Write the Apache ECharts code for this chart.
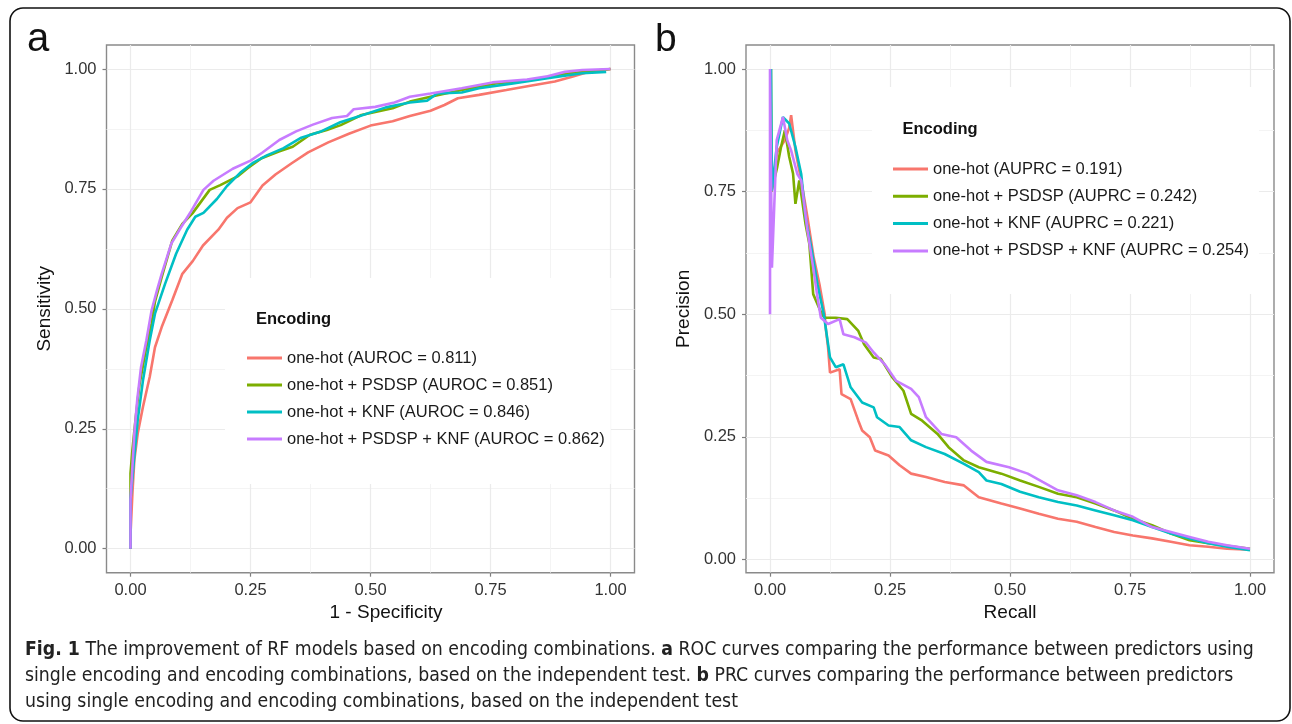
<!DOCTYPE html>
<html><head><meta charset="utf-8">
<script src="https://cdn.jsdelivr.net/npm/echarts@6/dist/echarts.min.js"></script>
<style>html,body{margin:0;padding:0;background:#fff}#c{width:1292px;height:724px}</style>
</head><body><div id="c"></div>
<script>
// ---------- data ----------
const rocNames = ['one-hot (AUROC = 0.811)','one-hot + PSDSP (AUROC = 0.851)','one-hot + KNF (AUROC = 0.846)','one-hot + PSDSP + KNF (AUROC = 0.862)'];
const prcNames = ['one-hot (AUPRC = 0.191)','one-hot + PSDSP (AUPRC = 0.242)','one-hot + KNF (AUPRC = 0.221)','one-hot + PSDSP + KNF (AUPRC = 0.254)'];
const colors = ['#F8766D','#7CAE00','#00BFC4','#C77CFF'];
const majorTicks = [0, 0.25, 0.5, 0.75, 1];
const minorTicks = [0.125, 0.375, 0.625, 0.875];

const rocOneHot = [[0,0],[0,0.03],[0.004,0.116],[0.008,0.185],[0.015,0.240],[0.026,0.296],[0.040,0.358],[0.051,0.420],[0.065,0.462],[0.087,0.518],[0.108,0.573],[0.130,0.600],[0.151,0.632],[0.183,0.665],[0.201,0.690],[0.223,0.710],[0.250,0.722],[0.275,0.757],[0.302,0.780],[0.335,0.803],[0.370,0.826],[0.412,0.847],[0.455,0.865],[0.500,0.882],[0.546,0.891],[0.582,0.902],[0.625,0.913],[0.654,0.925],[0.682,0.939],[0.726,0.946],[0.783,0.956],[0.833,0.965],[0.884,0.974],[0.920,0.984],[0.955,0.994],[1,1]];
const rocPsdsp = [[0,0],[0,0.157],[0.004,0.206],[0.011,0.275],[0.019,0.344],[0.033,0.420],[0.044,0.470],[0.051,0.515],[0.065,0.566],[0.087,0.642],[0.108,0.677],[0.129,0.699],[0.165,0.748],[0.187,0.758],[0.223,0.776],[0.244,0.793],[0.273,0.814],[0.309,0.828],[0.338,0.838],[0.374,0.863],[0.409,0.873],[0.438,0.883],[0.481,0.904],[0.546,0.918],[0.582,0.932],[0.625,0.942],[0.690,0.956],[0.761,0.970],[0.833,0.977],[0.905,0.990],[1,1]];
const rocKnf = [[0,0],[0,0.102],[0.006,0.171],[0.015,0.268],[0.026,0.351],[0.040,0.434],[0.051,0.490],[0.072,0.552],[0.095,0.615],[0.118,0.665],[0.135,0.692],[0.152,0.700],[0.180,0.729],[0.201,0.756],[0.229,0.784],[0.256,0.805],[0.284,0.820],[0.319,0.835],[0.354,0.856],[0.395,0.869],[0.437,0.889],[0.478,0.902],[0.532,0.920],[0.582,0.930],[0.618,0.934],[0.639,0.949],[0.690,0.951],[0.726,0.960],[0.797,0.970],[0.869,0.981],[0.941,0.991],[0.991,0.994]];
const rocAll = [[0,0],[0,0.102],[0.004,0.171],[0.008,0.240],[0.014,0.310],[0.022,0.379],[0.033,0.434],[0.044,0.497],[0.055,0.538],[0.065,0.573],[0.085,0.636],[0.104,0.668],[0.126,0.703],[0.152,0.748],[0.173,0.767],[0.213,0.792],[0.250,0.809],[0.275,0.826],[0.310,0.852],[0.345,0.870],[0.380,0.884],[0.420,0.898],[0.451,0.902],[0.465,0.916],[0.510,0.921],[0.550,0.930],[0.582,0.942],[0.625,0.949],[0.690,0.960],[0.754,0.972],[0.826,0.978],[0.869,0.985],[0.905,0.994],[0.941,0.998],[1,1]];

const prcOneHot = [[0.001,1.0],[0.003,0.75],[0.015,0.83],[0.031,0.855],[0.040,0.88],[0.044,0.906],[0.053,0.834],[0.065,0.773],[0.078,0.698],[0.091,0.616],[0.103,0.561],[0.114,0.50],[0.116,0.473],[0.121,0.432],[0.125,0.381],[0.145,0.388],[0.149,0.337],[0.168,0.327],[0.184,0.283],[0.192,0.263],[0.208,0.249],[0.219,0.222],[0.247,0.212],[0.270,0.192],[0.294,0.175],[0.325,0.168],[0.364,0.158],[0.404,0.151],[0.435,0.127],[0.482,0.114],[0.521,0.104],[0.560,0.093],[0.600,0.083],[0.639,0.077],[0.678,0.066],[0.717,0.056],[0.756,0.049],[0.796,0.043],[0.835,0.036],[0.874,0.029],[0.913,0.026],[0.952,0.022],[1.0,0.020]];
const prcPsdsp = [[0.002,1.0],[0.003,0.75],[0.015,0.80],[0.023,0.841],[0.031,0.875],[0.040,0.821],[0.048,0.787],[0.053,0.725],[0.061,0.773],[0.074,0.684],[0.082,0.643],[0.090,0.541],[0.108,0.50],[0.114,0.493],[0.137,0.493],[0.161,0.490],[0.184,0.466],[0.196,0.439],[0.216,0.412],[0.231,0.409],[0.255,0.371],[0.278,0.344],[0.294,0.297],[0.317,0.283],[0.349,0.256],[0.372,0.229],[0.404,0.202],[0.435,0.188],[0.482,0.175],[0.521,0.161],[0.560,0.148],[0.600,0.134],[0.639,0.127],[0.678,0.114],[0.717,0.100],[0.756,0.083],[0.796,0.070],[0.835,0.053],[0.874,0.039],[0.913,0.033],[1.0,0.022]];
const prcKnf = [[0.002,1.0],[0.004,0.752],[0.014,0.841],[0.027,0.902],[0.040,0.889],[0.053,0.841],[0.065,0.786],[0.074,0.698],[0.086,0.636],[0.099,0.561],[0.112,0.50],[0.125,0.412],[0.137,0.392],[0.153,0.398],[0.168,0.351],[0.192,0.320],[0.216,0.310],[0.223,0.290],[0.247,0.273],[0.270,0.270],[0.294,0.243],[0.325,0.229],[0.364,0.215],[0.404,0.195],[0.435,0.178],[0.451,0.161],[0.482,0.154],[0.521,0.138],[0.560,0.127],[0.600,0.117],[0.639,0.110],[0.678,0.100],[0.717,0.090],[0.756,0.080],[0.796,0.066],[0.835,0.053],[0.874,0.043],[0.913,0.033],[0.952,0.026],[1.0,0.019]];
const prcAll = [[0,0.5],[0,1.0],[0.004,0.595],[0.014,0.855],[0.027,0.902],[0.036,0.855],[0.044,0.834],[0.057,0.786],[0.065,0.773],[0.078,0.671],[0.091,0.589],[0.099,0.534],[0.106,0.493],[0.121,0.480],[0.145,0.490],[0.153,0.459],[0.176,0.453],[0.200,0.442],[0.216,0.422],[0.239,0.398],[0.263,0.364],[0.294,0.348],[0.310,0.331],[0.325,0.290],[0.357,0.256],[0.388,0.249],[0.419,0.222],[0.451,0.199],[0.498,0.188],[0.537,0.175],[0.568,0.158],[0.600,0.141],[0.639,0.131],[0.678,0.117],[0.717,0.100],[0.756,0.087],[0.796,0.066],[0.835,0.056],[0.874,0.046],[0.913,0.036],[0.952,0.029],[1.0,0.022]];

const rocSeries = [rocOneHot, rocPsdsp, rocKnf, rocAll];
const prcSeries = [prcOneHot, prcPsdsp, prcKnf, prcAll];

const captionLines = [
  '{b|Fig. 1} The improvement of RF models based on encoding combinations. {b|a} ROC curves comparing the performance between predictors using',
  'single encoding and encoding combinations, based on the independent test. {b|b} PRC curves comparing the performance between predictors',
  'using single encoding and encoding combinations, based on the independent test'
];

// ---------- chart ----------
const FONT = '"Liberation Sans", Arial, Helvetica, sans-serif';
const CAPFONT = '"Liberation Sans Narrow", "DejaVu Sans Condensed", sans-serif';
const chart = echarts.init(document.getElementById('c'), null, {renderer: 'canvas'});

function mainAxis(gridIndex, min, max, name, nameGap, namePad) {
  return {
    type: 'value', gridIndex, min, max,
    axisLine: {show: false, onZero: false},
    axisTick: {show: true, customValues: majorTicks, length: 4, lineStyle: {color: '#7f7f7f', width: 1.2}},
    axisLabel: {customValues: majorTicks, formatter: v => v.toFixed(2), fontSize: 16.5, color: '#333', fontFamily: FONT, margin: 9},
    splitLine: {show: true, lineStyle: {color: '#ebebeb', width: 1.2}},
    name, nameLocation: 'middle', nameGap,
    nameTextStyle: {fontSize: 19, color: '#111', fontFamily: FONT, padding: namePad || 0}
  };
}
function minorAxis(gridIndex, min, max) {
  return {
    type: 'value', gridIndex, min, max,
    axisLine: {show: false, onZero: false},
    axisTick: {show: false, customValues: minorTicks},
    axisLabel: {show: false},
    splitLine: {show: true, lineStyle: {color: '#f3f3f3', width: 0.9}}
  };
}

const yA = mainAxis(0, -0.05, 1.05, 'Sensitivity', 52);
yA.axisLabel.margin = 10;
const yB = mainAxis(1, -0.027, 1.049, 'Precision', 53);
yB.axisLabel.margin = 10;

const series = [];
rocSeries.forEach((d, i) => series.push({
  type: 'line', name: rocNames[i], xAxisIndex: 0, yAxisIndex: 0, data: d,
  showSymbol: false, symbol: 'none', silent: true, z: 3 + i,
  lineStyle: {color: colors[i], width: 2.6}, itemStyle: {color: colors[i]}
}));
prcSeries.forEach((d, i) => series.push({
  type: 'line', name: prcNames[i], xAxisIndex: 2, yAxisIndex: 2, data: d,
  showSymbol: false, symbol: 'none', silent: true, z: 3 + i,
  lineStyle: {color: colors[i], width: 2.6}, itemStyle: {color: colors[i]}
}));

const legendBase = {
  orient: 'vertical', icon: 'rect', itemWidth: 35, itemHeight: 3,
  backgroundColor: '#fff', selectedMode: false, z: 6,
  textStyle: {fontSize: 16.5, color: '#1a1a1a', fontFamily: FONT, lineHeight: 18}
};

const option = {
  animation: false,
  backgroundColor: '#fff',
  grid: [
    {left: 106.5, top: 45, width: 528, height: 527.7, show: true, borderColor: '#8a8a8a', borderWidth: 1.4, backgroundColor: 'transparent'},
    {left: 746, top: 45, width: 528, height: 527.7, show: true, borderColor: '#8a8a8a', borderWidth: 1.4, backgroundColor: 'transparent'}
  ],
  xAxis: [
    mainAxis(0, -0.05, 1.05, '1 - Specificity', 28, [0, 0, 0, 31]),
    minorAxis(0, -0.05, 1.05),
    mainAxis(1, -0.05, 1.05, 'Recall', 28),
    minorAxis(1, -0.05, 1.05)
  ],
  yAxis: [yA, minorAxis(0, -0.05, 1.05), yB, minorAxis(1, -0.027, 1.049)],
  legend: [
    Object.assign({}, legendBase, {data: rocNames, left: 225, top: 278, itemGap: 9, padding: [71, 6, 36, 22]}),
    Object.assign({}, legendBase, {data: prcNames, left: 872, top: 87, itemGap: 9.3, padding: [73, 10, 34, 21]})
  ],
  series,
  graphic: [
    {type: 'rect', z: 100, shape: {x: 10, y: 8, width: 1280, height: 713, r: 13}, style: {fill: 'none', stroke: '#111', lineWidth: 1.6}, silent: true},
    {type: 'text', z: 100, x: 27, y: 40, style: {text: 'a', fontSize: 40, fontFamily: FONT, fill: '#111', verticalAlign: 'middle'}},
    {type: 'text', z: 100, x: 655, y: 40, style: {text: 'b', fontSize: 39, fontFamily: FONT, fill: '#111', verticalAlign: 'middle'}},
    {type: 'text', z: 100, x: 256, y: 319, style: {text: 'Encoding', fontSize: 16.5, fontWeight: 'bold', fontFamily: FONT, fill: '#111', verticalAlign: 'middle'}},
    {type: 'text', z: 100, x: 902.5, y: 129.5, style: {text: 'Encoding', fontSize: 16.5, fontWeight: 'bold', fontFamily: FONT, fill: '#111', verticalAlign: 'middle'}}
  ].concat(captionLines.map((t, i) => ({
    type: 'text', z: 100, x: 25, y: 650 + i * 26, scaleX: 0.964,
    style: {
      text: t, fontSize: 20, fontFamily: CAPFONT, fill: '#222', verticalAlign: 'middle',
      rich: {b: {fontSize: 20, fontWeight: 'bold', fontFamily: CAPFONT, fill: '#222'}}
    }
  })))
};
chart.setOption(option);
</script>
</body></html>
